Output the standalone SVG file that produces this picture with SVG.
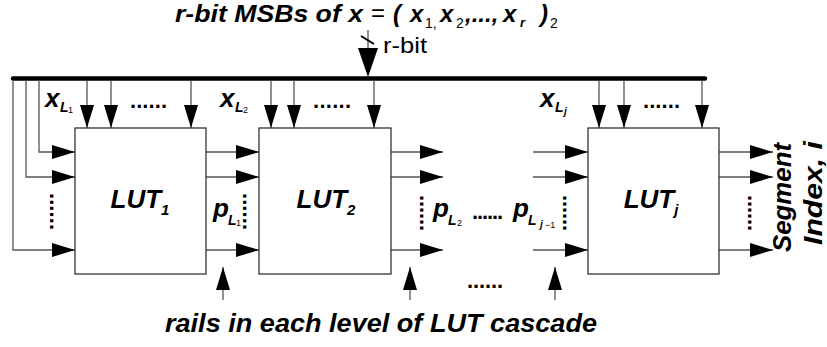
<svg xmlns="http://www.w3.org/2000/svg" width="827" height="347" viewBox="0 0 827 347">
<defs>
<style>
.ln{stroke:#555;stroke-width:1.3;fill:none}
.bus{stroke:#000;stroke-width:4.5;stroke-linecap:round;fill:none}
.box{fill:#fff;stroke:#333;stroke-width:1.3}
.bi{font-family:"Liberation Sans",Arial,sans-serif;font-weight:bold;font-style:italic;fill:#000}
.rg{font-family:"Liberation Sans",Arial,sans-serif;font-weight:normal;font-style:normal;fill:#000}
.dots{font-family:"Liberation Sans",Arial,sans-serif;font-weight:bold;font-size:22px;fill:#000}
</style>
<marker id="ah" viewBox="0 0 23 14" refX="23" refY="7" markerWidth="23" markerHeight="14" markerUnits="userSpaceOnUse" orient="auto">
<path d="M0,0 L23,7 L0,14 z" fill="#000"/>
</marker>
</defs>
<rect width="827" height="347" fill="#fff"/>

<g id="title">
<text class="bi" x="175" y="22" font-size="24" textLength="188" lengthAdjust="spacingAndGlyphs">r-bit MSBs of x</text>
<text class="rg" x="371" y="21" font-size="24">=</text>
<text class="bi" x="393" y="22" font-size="24">(</text>
<text class="bi" x="410" y="22" font-size="24">x</text>
<text class="rg" x="425" y="28" font-size="14">1,</text>
<text class="bi" x="440" y="22" font-size="24">x</text>
<text class="rg" x="456" y="28" font-size="14">2</text>
<text class="bi" x="465" y="22" font-size="24">,...,</text>
<text class="bi" x="503" y="22" font-size="24">x</text>
<text class="bi" x="520" y="27" font-size="13">r</text>
<text class="bi" x="540" y="22" font-size="24">)</text>
<text class="rg" x="550" y="28" font-size="14">2</text>
</g>

<g id="connectors">
<line class="bus" x1="13" y1="78.5" x2="705" y2="78.5"/>
<line class="ln" x1="368" y1="30" x2="368" y2="50"/>
<line x1="361" y1="36" x2="374" y2="44" stroke="#000" stroke-width="2"/>
<path d="M358,48 L378,48 L368,77 z" fill="#000"/>
<path class="ln" d="M39,80 V152 H75" marker-end="url(#ah)"/>
<path class="ln" d="M26,80 V177 H75" marker-end="url(#ah)"/>
<path class="ln" d="M13,80 V250 H75" marker-end="url(#ah)"/>
<path class="ln" d="M87,81 V128" marker-end="url(#ah)"/>
<path class="ln" d="M111,81 V128" marker-end="url(#ah)"/>
<path class="ln" d="M191,81 V128" marker-end="url(#ah)"/>
<path class="ln" d="M271,81 V128" marker-end="url(#ah)"/>
<path class="ln" d="M294,81 V128" marker-end="url(#ah)"/>
<path class="ln" d="M374,81 V128" marker-end="url(#ah)"/>
<path class="ln" d="M599,81 V128" marker-end="url(#ah)"/>
<path class="ln" d="M624,81 V128" marker-end="url(#ah)"/>
<path class="ln" d="M702,81 V128" marker-end="url(#ah)"/>
<path class="ln" d="M206,152 H259" marker-end="url(#ah)"/>
<path class="ln" d="M206,177 H259" marker-end="url(#ah)"/>
<path class="ln" d="M206,250 H259" marker-end="url(#ah)"/>
<path class="ln" d="M391,152 H443" marker-end="url(#ah)"/>
<path class="ln" d="M391,177 H443" marker-end="url(#ah)"/>
<path class="ln" d="M391,250 H443" marker-end="url(#ah)"/>
<path class="ln" d="M533,152 H588" marker-end="url(#ah)"/>
<path class="ln" d="M533,177 H588" marker-end="url(#ah)"/>
<path class="ln" d="M533,250 H588" marker-end="url(#ah)"/>
<path class="ln" d="M719,152 H773" marker-end="url(#ah)"/>
<path class="ln" d="M719,177 H773" marker-end="url(#ah)"/>
<path class="ln" d="M719,250 H773" marker-end="url(#ah)"/>
<path class="ln" d="M223,300 V267" marker-end="url(#ah)"/>
<path class="ln" d="M410,300 V267" marker-end="url(#ah)"/>
<path class="ln" d="M555,300 V267" marker-end="url(#ah)"/>
</g>

<g id="LUT1">
<rect class="box" x="75" y="128" width="131" height="146"/>
<text class="bi" x="140" y="208" font-size="26" text-anchor="middle">LUT<tspan font-size="15" dy="7">1</tspan></text>
</g>
<g id="LUT2">
<rect class="box" x="259" y="128" width="132" height="146"/>
<text class="bi" x="326" y="208" font-size="26" text-anchor="middle">LUT<tspan font-size="15" dy="7">2</tspan></text>
</g>
<g id="LUTj">
<rect class="box" x="588" y="128" width="131" height="146"/>
<text class="bi" x="651" y="208" font-size="26" text-anchor="middle">LUT<tspan font-size="15" dy="7">j</tspan></text>
</g>

<g id="labels">
<text class="rg" x="383" y="53" font-size="22" textLength="44" lengthAdjust="spacingAndGlyphs">r-bit</text>
<text class="bi" x="45" y="107" font-size="26">x</text>
<text class="bi" x="60" y="112" font-size="14">L</text>
<text class="rg" x="68" y="113" font-size="9">1</text>
<text class="bi" x="220" y="107" font-size="26">x</text>
<text class="bi" x="235" y="112" font-size="14">L</text>
<text class="rg" x="243" y="113" font-size="9">2</text>
<text class="bi" x="540" y="107" font-size="26">x</text>
<text class="bi" x="555" y="112" font-size="14">L</text>
<text class="bi" x="564" y="115" font-size="10">j</text>

<text class="bi" x="213" y="217" font-size="26">p</text>
<text class="bi" x="228" y="225" font-size="14">L</text>
<text class="rg" x="236" y="226" font-size="9">1</text>
<text class="bi" x="433" y="217" font-size="26">p</text>
<text class="bi" x="448" y="225" font-size="14">L</text>
<text class="rg" x="457" y="226" font-size="9">2</text>
<text class="bi" x="513" y="217" font-size="26">p</text>
<text class="bi" x="528" y="225" font-size="14">L</text>
<text class="bi" x="540" y="228" font-size="10">j</text>
<text class="rg" x="545" y="228" font-size="9">−1</text>

<text class="dots" x="130" y="108" textLength="37" lengthAdjust="spacing">......</text>
<text class="dots" x="313" y="108" textLength="38" lengthAdjust="spacing">......</text>
<text class="dots" x="643" y="108" textLength="37" lengthAdjust="spacing">......</text>
<text class="dots" x="472" y="219" textLength="31" lengthAdjust="spacing">......</text>
<text class="dots" x="467" y="288" textLength="36" lengthAdjust="spacing">......</text>

<text class="dots" transform="translate(50,193) rotate(90)" textLength="37" lengthAdjust="spacing">......</text>
<text class="dots" transform="translate(243,193) rotate(90)" textLength="37" lengthAdjust="spacing">......</text>
<text class="dots" transform="translate(420,195) rotate(90)" textLength="36" lengthAdjust="spacing">......</text>
<text class="dots" transform="translate(563,195) rotate(90)" textLength="36" lengthAdjust="spacing">......</text>
<text class="dots" transform="translate(748,195) rotate(90)" textLength="36" lengthAdjust="spacing">......</text>

<text class="bi" transform="translate(791,252) rotate(-90)" font-size="25" textLength="109" lengthAdjust="spacingAndGlyphs">Segment</text>
<text class="bi" transform="translate(822,245) rotate(-90)" font-size="26" textLength="104" lengthAdjust="spacingAndGlyphs">Index, i</text>

<text class="bi" x="165" y="332" font-size="25" textLength="432" lengthAdjust="spacingAndGlyphs">rails in each level of LUT cascade</text>
</g>
</svg>
